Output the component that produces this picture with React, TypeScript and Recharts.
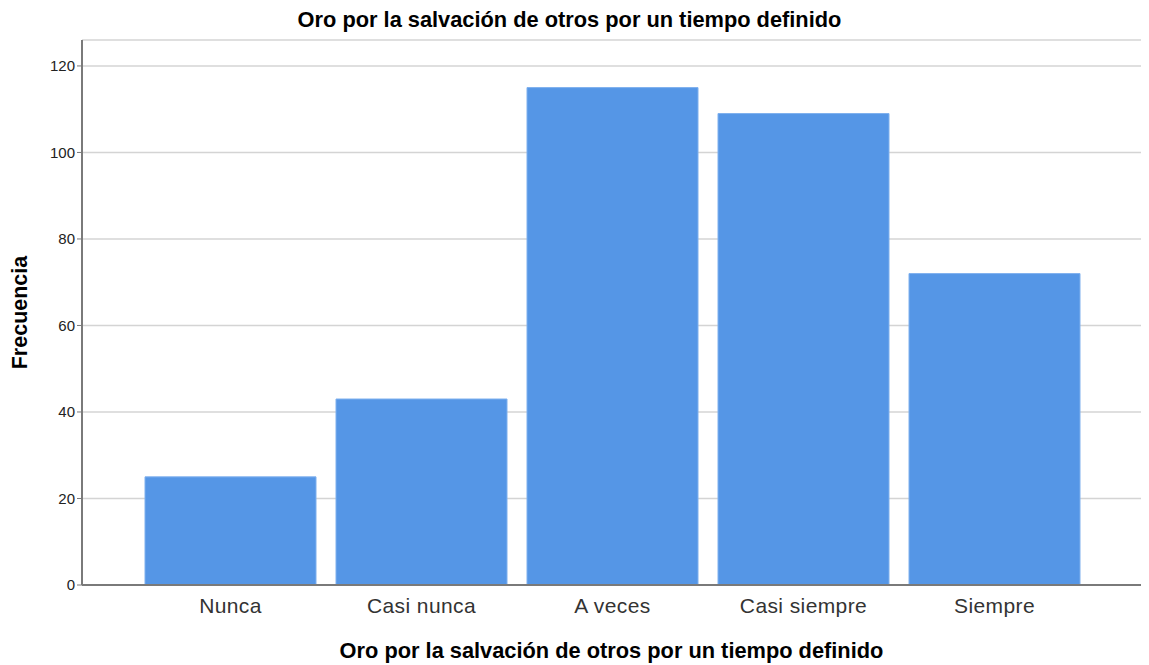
import { BarChart, Bar, XAxis, YAxis, CartesianGrid, Label } from "recharts";

const categories = ["Nunca", "Casi nunca", "A veces", "Casi siempre", "Siempre"];
const frecuencias = [25, 43, 115, 109, 72];
const yTicks = [0, 20, 40, 60, 80, 100, 120];

const data = categories.map((c, i) => ({ categoria: c, frecuencia: frecuencias[i] }));

const titulo = "Oro por la salvación de otros por un tiempo definido";
const font = "'Liberation Sans', Arial, sans-serif";

export default function App() {
  return (
    <div style={{ position: "fixed", left: 0, top: 0, width: 1149, height: 665, background: "#fff", fontFamily: font }}>
      <div
        style={{
          position: "absolute",
          top: 7,
          left: 0,
          width: 1139,
          textAlign: "center",
          fontSize: 21.8,
          fontWeight: "bold",
          color: "#000",
          lineHeight: "26px",
        }}
      >
        {titulo}
      </div>
      <BarChart
        width={1149}
        height={665}
        data={data}
        margin={{ top: 40, right: 8, bottom: 0, left: 0 }}
        barCategoryGap={10}
      >
        <CartesianGrid vertical={false} stroke="#d4d4d4" strokeWidth={1.5} />
        <XAxis
          dataKey="categoria"
          height={80}
          padding={{ left: 53, right: 51 }}
          tickLine={false}
          axisLine={{ stroke: "#7a7a7a", strokeWidth: 2 }}
          tick={{ fill: "#333", fontSize: 21, fontFamily: font, letterSpacing: 0.4 }}
          tickMargin={7}
        >
          <Label
            value={titulo}
            position="insideBottom"
            offset={7}
            style={{ fontSize: 21.8, fontWeight: "bold", fill: "#000", fontFamily: font }}
          />
        </XAxis>
        <YAxis
          width={82}
          domain={[0, 126]}
          ticks={yTicks}
          interval={0}
          tickSize={5}
          tickLine={{ stroke: "#7a7a7a" }}
          axisLine={{ stroke: "#7a7a7a", strokeWidth: 2 }}
          tick={{ fill: "#222", fontSize: 15, fontFamily: font }}
        >
          <Label
            content={({ viewBox }: any) => (
              <text
                x={20}
                y={viewBox.y + viewBox.height / 2}
                transform={`rotate(-90, 20, ${viewBox.y + viewBox.height / 2})`}
                textAnchor="middle"
                dominantBaseline="central"
                style={{ fontSize: 21.5, fontWeight: "bold", fill: "#000", fontFamily: font }}
              >
                Frecuencia
              </text>
            )}
          />
        </YAxis>
        <Bar dataKey="frecuencia" fill="#5596e6" stroke="#7fb0ee" strokeWidth={1} isAnimationActive={false} />
      </BarChart>
    </div>
  );
}
